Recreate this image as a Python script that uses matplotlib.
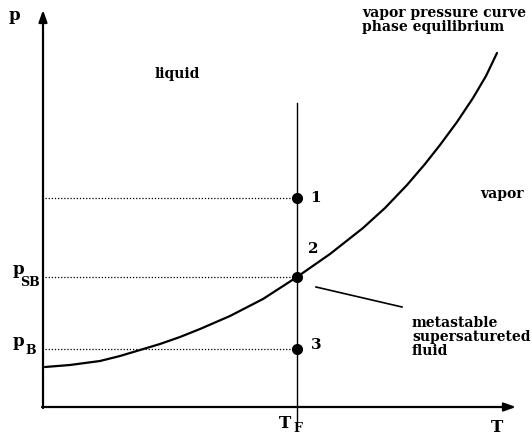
import matplotlib
matplotlib.use("Agg")
import matplotlib.pyplot as plt

# Diagram coordinates (arbitrary units): T to the right, p upward
curve_T = [2, 27, 57, 77, 97, 117, 137, 157, 187, 220, 254, 287, 320, 342, 364,
           382, 397, 414, 430, 443, 454]
curve_p = [40, 42, 46, 51, 57, 63, 70, 78, 91, 108, 130, 153, 179, 199, 222,
           243, 262, 285, 309, 331, 354]

T_F = 254
state_labels = ["1", "2", "3"]
state_p = [209, 130, 58]
p_tick_labels = ["SB", "B"]
p_tick_values = [130, 58]

fig = plt.figure(figsize=(5.32, 4.42), dpi=100)
ax = fig.add_axes([0, 0, 1, 1])
ax.set_xlim(-43, 489)
ax.set_ylim(-35, 407)
ax.axis("off")

fam = ["DejaVu Serif"]
fs = 10

# axes arrows
ax.annotate("", xy=(0, 397), xytext=(0, -1),
            arrowprops=dict(arrowstyle="-|>,head_length=0.7,head_width=0.25",
                            lw=1.6, color="black", shrinkA=0, shrinkB=0))
ax.annotate("", xy=(473, 0), xytext=(-1, 0),
            arrowprops=dict(arrowstyle="-|>,head_length=0.7,head_width=0.25",
                            lw=1.6, color="black", shrinkA=0, shrinkB=0))

# vapor pressure curve
ax.plot(curve_T, curve_p, color="black", lw=1.6, solid_capstyle="round",
        solid_joinstyle="round")

# isotherm at T_F
ax.plot([T_F, T_F], [-14, 304], color="black", lw=1.0)

# dotted lines to states
for pv in state_p:
    ax.plot([2, T_F], [pv, pv], color="black", lw=0.9, ls=(0, (1, 1.5)))

# state points
ax.plot([T_F] * 3, state_p, "o", color="black", ms=7)

# state labels
ax.text(T_F + 19, state_p[0], state_labels[0], fontsize=fs + 1, fontweight="bold",
        family=fam, va="center", ha="center")
ax.text(T_F + 16, state_p[1] + 28, state_labels[1], fontsize=fs + 1, fontweight="bold",
        family=fam, va="center", ha="center")
ax.text(T_F + 19, state_p[2] + 4, state_labels[2], fontsize=fs + 1, fontweight="bold",
        family=fam, va="center", ha="center")

# axis labels
ax.text(-29, 392, "p", fontsize=fs + 2, fontweight="bold", family=fam,
        va="center", ha="center")
ax.text(454, -20, "T", fontsize=fs + 2, fontweight="bold", family=fam,
        va="center", ha="center")
ax.text(T_F - 12, -16, "T", fontsize=fs + 2, fontweight="bold", family=fam,
        va="center", ha="center")
ax.text(T_F + 1, -22, "F", fontsize=fs - 1, fontweight="bold", family=fam,
        va="center", ha="center")

# p tick labels
ax.text(-25, p_tick_values[0] + 7, "p", fontsize=fs + 2, fontweight="bold",
        family=fam, va="center", ha="center")
ax.text(-13, p_tick_values[0] - 6, p_tick_labels[0], fontsize=fs - 1, fontweight="bold",
        family=fam, va="center", ha="center")
ax.text(-25, p_tick_values[1] + 7, "p", fontsize=fs + 2, fontweight="bold",
        family=fam, va="center", ha="center")
ax.text(-12, p_tick_values[1] - 1, p_tick_labels[1], fontsize=fs - 1, fontweight="bold",
        family=fam, va="center", ha="center")

# region labels
ax.text(112, 333, "liquid", fontsize=fs, fontweight="bold", family=fam,
        va="center", ha="left")
ax.text(437, 213, "vapor", fontsize=fs, fontweight="bold", family=fam,
        va="center", ha="left")
ax.text(319, 387, "vapor pressure curve\nphase equilibrium", fontsize=fs,
        fontweight="bold", family=fam, va="center", ha="left", linespacing=1.0)

# metastable annotation
ax.plot([273, 359], [120, 100], color="black", lw=1.2)
ax.text(369, 70, "metastable\nsupersatureted\nfluid", fontsize=fs,
        fontweight="bold", family=fam, va="center", ha="left", linespacing=1.0)

fig.savefig("out.png", dpi=100, facecolor="white")
